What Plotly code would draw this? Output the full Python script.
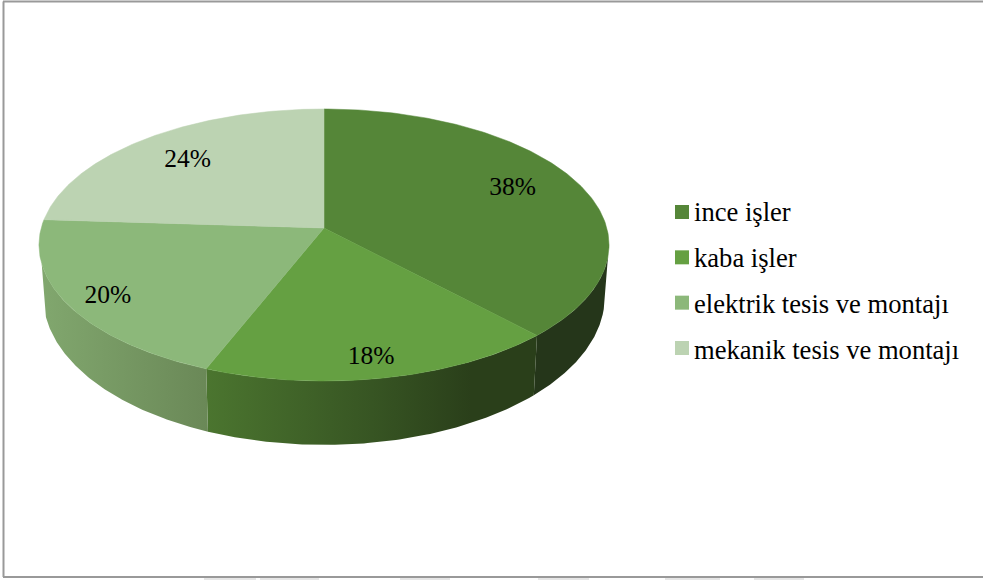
import numpy as np
import plotly.graph_objects as go

# Chart data
categories = ["ince işler", "kaba işler", "elektrik tesis ve montajı", "mekanik tesis ve montajı"]
shares = [38, 18, 20, 24]

# Styling
top_colors = ["#558638", "#65A042", "#8CB87A", "#BCD3B2"]
side_scales = [
    [[0, "#25361A"], [1, "#25361A"]],
    [[0, "#4B752F"], [0.5, "#375523"], [0.8, "#2A3F1A"], [1, "#2A3F1A"]],
    [[0, "#81A76E"], [1, "#6A8857"]],
    [[0, "#BCD3B2"], [1, "#BCD3B2"]],
]
label_radius = [0.755, 0.875, 0.865, 0.745]
label_turn_deg = [-2.0, 1.0, -1.5, -0.5]
FONT = "Liberation Serif"

# Perspective of the disc, in page pixels
CX, CY = 324.0, 228.0
RX, RY, TILT = 282.8, 133.9, 0.125
SHRINK_X, STRETCH_Y, DROP_Y = 0.985, 1.09, 278.1


def project(theta, r=1.0):
    """Disc position to page pixels; theta runs clockwise from twelve o'clock."""
    X, Y = r * np.sin(theta), r * np.cos(theta)
    d = 1 + TILT * Y
    return CX + RX * X / d, CY - RY * Y / d


def lower(theta):
    x, y = project(theta)
    return CX + SHRINK_X * (x - CX), DROP_Y + STRETCH_Y * (y - CY)


edges = 2 * np.pi * np.cumsum([0] + shares) / sum(shares)
fig = go.Figure()

# Outer wall of the front half, each slice with its own shading
front_start, front_end = np.radians(102), np.radians(255)
for i in range(len(shares)):
    a, b = max(edges[i], front_start), min(edges[i + 1], front_end)
    if a >= b:
        continue
    t = np.linspace(a, b, 100)
    xt, yt = project(t)
    xb, yb = lower(t)
    fig.add_trace(go.Scatter(
        x=np.r_[xt, xb[::-1]], y=np.r_[yt, yb[::-1]],
        mode="lines", fill="toself", line=dict(width=0),
        fillgradient=dict(type="horizontal", colorscale=side_scales[i]),
        hoverinfo="skip", showlegend=False,
    ))

# Top face of the pie
for i in range(len(shares)):
    t = np.linspace(edges[i], edges[i + 1], 160)
    x, y = project(t)
    fig.add_trace(go.Scatter(
        x=np.r_[CX, x, CX], y=np.r_[CY, y, CY],
        mode="lines", fill="toself", fillcolor=top_colors[i],
        line=dict(width=0.5, color=top_colors[i]),
        hoverinfo="skip", showlegend=False,
    ))

# Percentage labels
mids = (edges[:-1] + edges[1:]) / 2 + np.radians(label_turn_deg)
lx, ly = project(mids, np.array(label_radius))
fig.add_trace(go.Scatter(
    x=lx, y=ly, mode="text", text=[f"{s}%" for s in shares],
    textposition="middle center",
    textfont=dict(family=FONT, size=25.5, color="#000000"),
    hoverinfo="skip", showlegend=False,
))

# Key on the right
n = len(categories)
fig.add_trace(go.Scatter(
    x=[682] * n, y=212 + 45.33 * np.arange(n), mode="markers",
    marker=dict(symbol="square", size=14, color=top_colors, line=dict(width=0)),
    hoverinfo="skip", showlegend=False,
))
fig.add_trace(go.Scatter(
    x=[694] * n, y=214 + 46 * np.arange(n), mode="text", text=categories,
    textposition="middle right",
    textfont=dict(family=FONT, size=26.6, color="#000000"),
    hoverinfo="skip", showlegend=False,
))

# Frame open on the right side
frame = dict(type="line", line=dict(color="#999999", width=2), layer="above")
shapes = [
    dict(frame, x0=3.5, x1=3.5, y0=1.5, y1=577),
    dict(frame, x0=3, x1=983, y0=1.5, y1=1.5),
    dict(frame, x0=3, x1=983, y0=577, y1=577),
]

# Faint marks just under the frame
for x0, x1 in [(204, 256), (260, 319), (400, 450), (538, 589), (665, 720), (754, 804)]:
    shapes.append(dict(type="line", x0=x0, x1=x1, y0=579, y1=579,
                       line=dict(color="#E6E6E6", width=2)))

fig.update_layout(
    width=983, height=580, autosize=False,
    margin=dict(l=0, r=0, t=0, b=0),
    paper_bgcolor="#FFFFFF", plot_bgcolor="#FFFFFF",
    showlegend=False, shapes=shapes,
    xaxis=dict(range=[0, 983], visible=False, fixedrange=True),
    yaxis=dict(range=[580, 0], visible=False, fixedrange=True),
)

fig.write_html("out.html", config=dict(displayModeBar=False))
